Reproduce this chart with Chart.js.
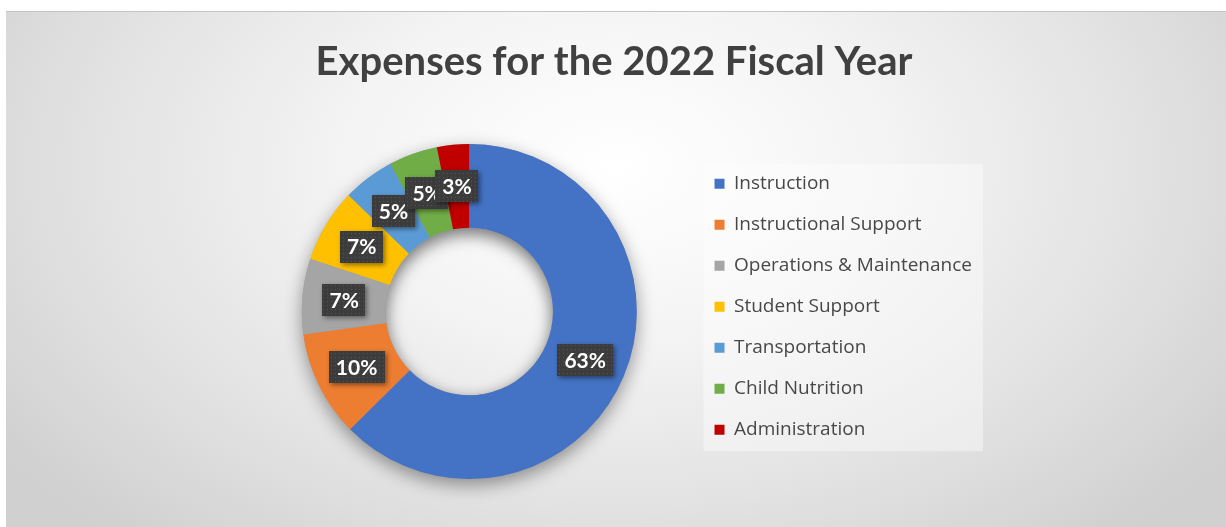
<!DOCTYPE html>
<html>
<head>
<meta charset="utf-8">
<title>Expenses for the 2022 Fiscal Year</title>
<script src="https://cdn.jsdelivr.net/npm/chart.js@4.4.0/dist/chart.umd.min.js"></script>
<style>
  html, body { margin: 0; padding: 0; background: #ffffff; }
  #wrap {
    position: absolute; left: 6px; top: 11px; width: 1220px; height: 516px;
    box-sizing: border-box; border-top: 1px solid #c4c4c4;
    background: radial-gradient(ellipse 62% 95% at 50% 30%, #ffffff 0%, #f4f4f4 35%, #e2e2e2 70%, #d0d0d0 100%);
  }
  canvas { display: block; }
</style>
</head>
<body>
<div id="wrap"><canvas id="expenses-chart"></canvas></div>
<script>
// data (share of total, in %)
var categories = ['Instruction', 'Instructional Support', 'Operations & Maintenance',
                  'Student Support', 'Transportation', 'Child Nutrition', 'Administration'];
var expenseShares = [62.6, 10.2, 7.3, 7.1, 5.0, 4.7, 3.1];
var chartTitle = 'Expenses for the 2022 Fiscal Year';

// soft shadow under the ring and inside the hole
var ringShadow = {
    id: 'ringShadow',
    beforeDatasetsDraw: function(chart){
        var arc = chart.getDatasetMeta(0).data[0];
        if(!arc) return;
        var p = arc.getProps(['x', 'y', 'innerRadius', 'outerRadius']);
        var ctx = chart.ctx;
        ctx.save();
        ctx.shadowColor = 'rgba(0,0,0,0.4)';
        ctx.shadowBlur = 18;
        ctx.shadowOffsetY = 6;
        ctx.fillStyle = '#999';
        ctx.beginPath();
        ctx.arc(p.x, p.y, p.outerRadius, 0, Math.PI * 2);
        ctx.arc(p.x, p.y, p.innerRadius, 0, Math.PI * 2, true);
        ctx.fill();
        ctx.restore();

        // inner shadow in the hole
        ctx.save();
        ctx.beginPath();
        ctx.arc(p.x, p.y, p.innerRadius, 0, Math.PI * 2);
        ctx.clip();
        ctx.shadowColor = 'rgba(0,0,0,0.22)';
        ctx.shadowBlur = 14;
        ctx.shadowOffsetY = 5;
        ctx.fillStyle = '#999';
        ctx.beginPath();
        ctx.arc(p.x, p.y, p.innerRadius + 40, 0, Math.PI * 2);
        ctx.arc(p.x, p.y, p.innerRadius, 0, Math.PI * 2, true);
        ctx.fill();
        ctx.restore();
    }
};

// light panel behind the legend items
var legendPanel = {
    id: 'legendPanel',
    beforeDraw: function(chart){
        var boxes = chart.legend && chart.legend.legendHitBoxes;
        if(!boxes || !boxes.length) return;
        var first = boxes[0], last = boxes[boxes.length - 1];
        var right = Math.max.apply(null, boxes.map(function(b){ return b.left + b.width; }));
        var ctx = chart.ctx;
        ctx.save();
        ctx.fillStyle = 'rgba(255,255,255,0.4)';
        ctx.fillRect(first.left - 11, first.top - 10, right - first.left + 22, last.top + last.height - first.top + 22);
        ctx.restore();
    }
};

// dark boxed percentage labels, Excel style
var dotPattern = null;
function getDotPattern(ctx){
    if(dotPattern) return dotPattern;
    var c = document.createElement('canvas');
    c.width = 4; c.height = 4;
    var g = c.getContext('2d');
    g.fillStyle = '#3c3c3c';
    g.fillRect(0, 0, 4, 4);
    g.fillStyle = '#545454';
    g.fillRect(1, 1, 1, 1);
    dotPattern = ctx.createPattern(c, 'repeat');
    return dotPattern;
}

var boxLabels = {
    id: 'boxLabels',
    afterDatasetsDraw: function(chart){
        var ctx = chart.ctx;
        var meta = chart.getDatasetMeta(0);
        var data = chart.data.datasets[0].data;
        var total = data.reduce(function(a, b){ return a + b; }, 0);
        ctx.save();
        ctx.font = 'bold 21px Lato';
        ctx.textAlign = 'center';
        ctx.textBaseline = 'middle';
        meta.data.forEach(function(arc, i){
            var pos = arc.tooltipPosition();
            var txt = Math.round(data[i] / total * 100) + '%';
            var w = ctx.measureText(txt).width + 14, h = 32;
            ctx.shadowColor = 'rgba(0,0,0,0.45)';
            ctx.shadowBlur = 5;
            ctx.shadowOffsetX = 2;
            ctx.shadowOffsetY = 2;
            ctx.fillStyle = getDotPattern(ctx);
            ctx.fillRect(Math.round(pos.x - w / 2), Math.round(pos.y - h / 2), Math.round(w), h);
            ctx.shadowColor = 'transparent';
            ctx.fillStyle = '#ffffff';
            ctx.fillText(txt, pos.x, pos.y + 1);
        });
        ctx.restore();
    }
};

var chart = new Chart(document.getElementById('expenses-chart'), {
    type: 'doughnut',
    data: {
        labels: categories,
        datasets: [{
            data: expenseShares,
            backgroundColor: ['#4472C4', '#ED7D31', '#A5A5A5', '#FFC000', '#5B9BD5', '#70AD47', '#C00000'],
            borderWidth: 0
        }]
    },
    options: {
        responsive: true,
        maintainAspectRatio: false,
        animation: false,
        cutout: '50%',
        layout: {
            padding: { left: 240, right: 244, top: 0, bottom: 48 }
        },
        plugins: {
            title: {
                display: true,
                text: chartTitle,
                color: '#404040',
                font: { family: 'Lato', size: 40, weight: 'bold' },
                padding: { top: 26, bottom: 58 }
            },
            legend: {
                position: 'right',
                align: 'start',
                fullSize: false,
                // empty title only nudges the items down a little
                title: { display: true, text: '', font: { size: 1 }, padding: { top: 0, bottom: 7 } },
                labels: {
                    color: '#484848',
                    boxWidth: 10,
                    boxHeight: 10,
                    padding: 22,
                    font: { family: 'Open Sans', size: 19 }
                }
            },
            tooltip: { enabled: false }
        }
    },
    plugins: [legendPanel, ringShadow, boxLabels]
});
</script>
</body>
</html>
